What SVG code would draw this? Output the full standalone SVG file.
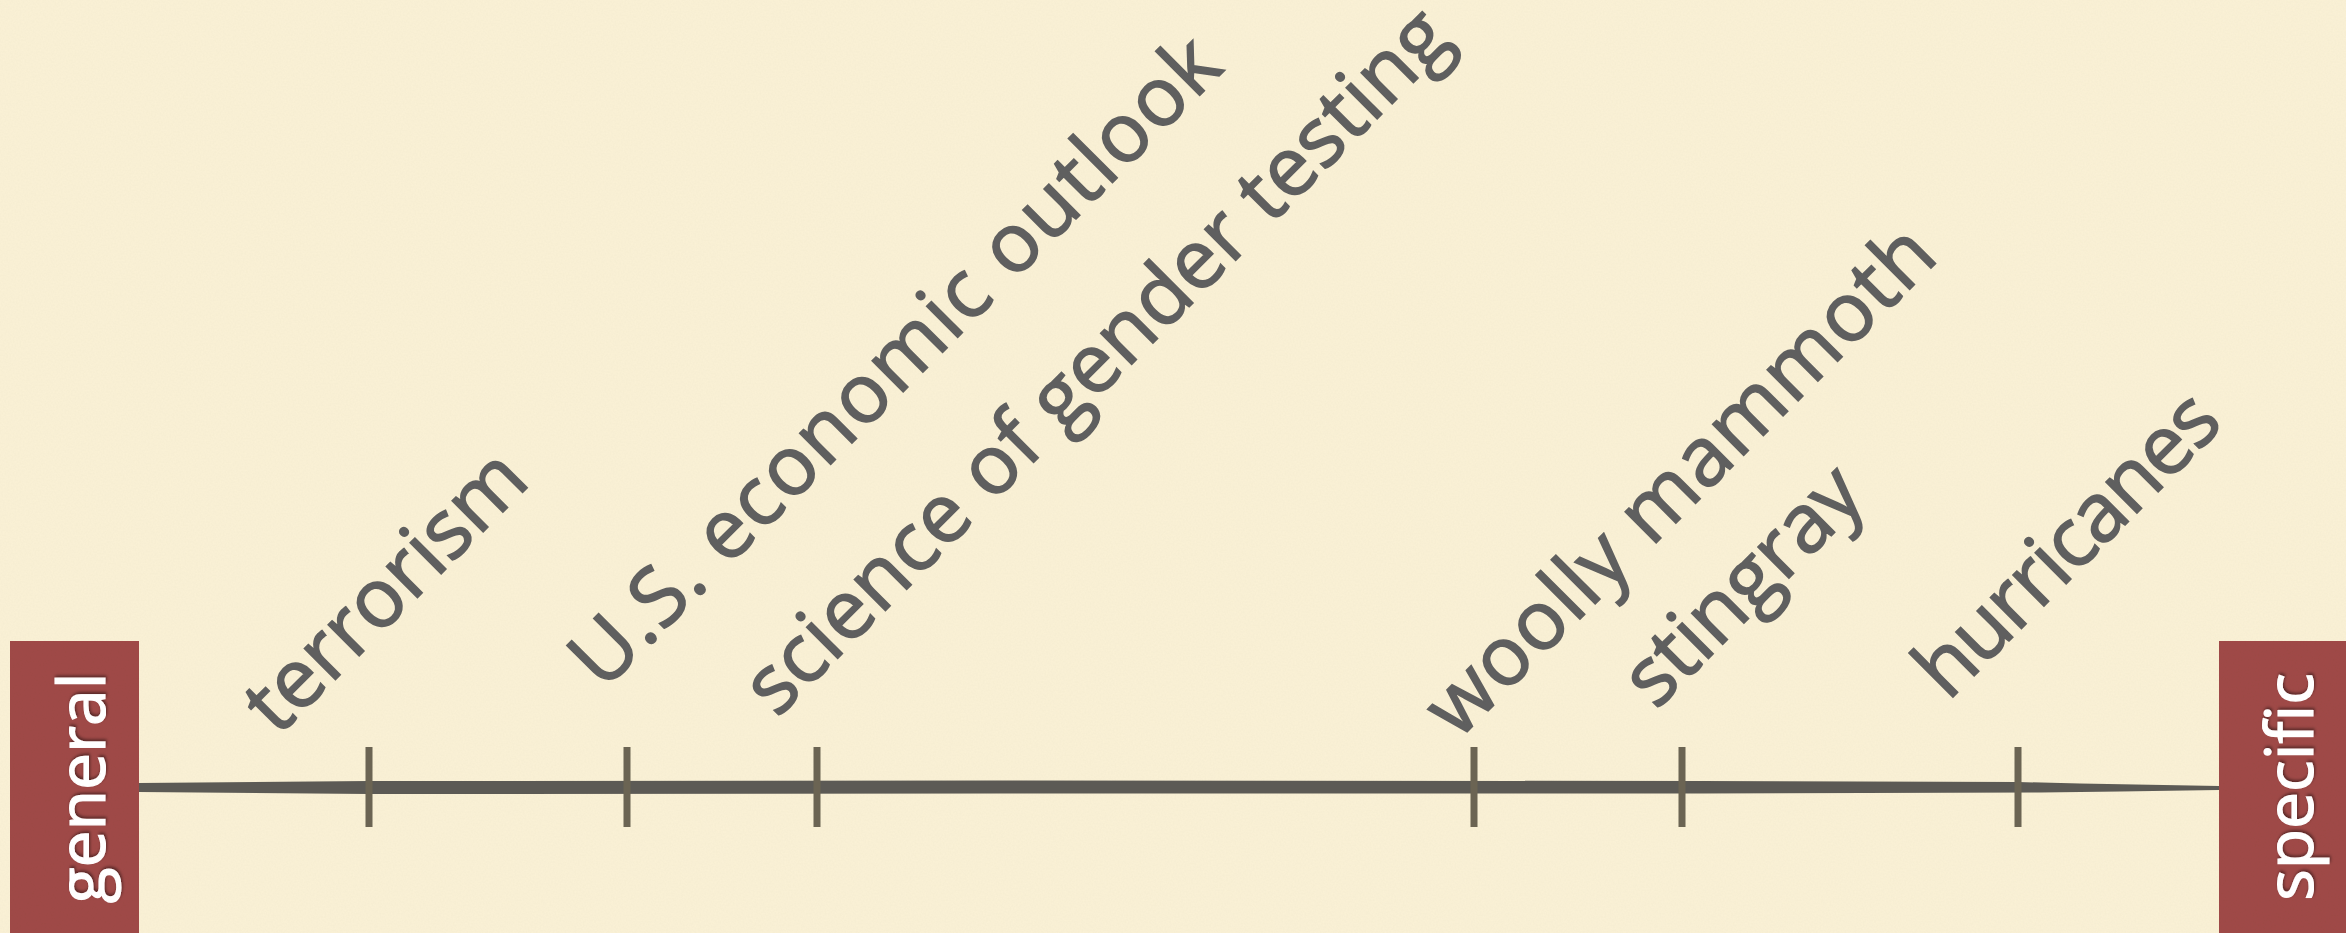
<svg xmlns="http://www.w3.org/2000/svg" width="2346" height="933" viewBox="0 0 2346 933">
  <defs>
    <style>
      .lbl { font-family: "Open Sans", "Noto Sans", "DejaVu Sans", sans-serif; font-size: 82px; fill: #5f5f5f; stroke: #5f5f5f; stroke-width: 1.6px; }
      .end { font-family: "Open Sans", "Noto Sans", "DejaVu Sans", sans-serif; font-size: 66px; fill: #ffffff; stroke: #ffffff; stroke-width: 1.2px; text-anchor: middle; }
      .box { fill: #a04a47; }
      .tick { fill: #6b6453; }
    </style>
    <filter id="paper" x="0" y="0" width="100%" height="100%">
      <feTurbulence type="fractalNoise" baseFrequency="0.6" numOctaves="2" seed="3" result="n"/>
      <feColorMatrix in="n" type="matrix" values="0 0 0 0 0  0 0 0 0 0  0 0 0 0 0  0 0 0 0.05 0" result="a"/>
      <feComposite in="a" in2="SourceGraphic" operator="atop"/>
    </filter>
    <filter id="shadow" x="-20%" y="-20%" width="140%" height="140%">
      <feDropShadow dx="2" dy="1" stdDeviation="1.5" flood-color="#000000" flood-opacity="0.45"/>
    </filter>
  </defs>

  <rect x="0" y="0" width="2346" height="933" fill="#fbf2d6" filter="url(#paper)"/>

  <g id="connectors">
    <path d="M139,783 L369,781 L1000,780.5 L1700,781 L2018,782 L2080,783.5 L2219,786 L2219,790 L2120,791.5 L2040,792.5 L1700,793.5 L1000,793.5 L369,794 L139,792 Z" fill="#5c5a55"/>
  </g>

  <g id="ticks">
    <rect class="tick" x="365.5" y="747" width="7" height="80"/>
    <rect class="tick" x="623.5" y="747" width="7" height="80"/>
    <rect class="tick" x="813.5" y="747" width="7" height="80"/>
    <rect class="tick" x="1470.5" y="747" width="7" height="80"/>
    <rect class="tick" x="1678.5" y="747" width="7" height="80"/>
    <rect class="tick" x="2014.5" y="747" width="7" height="80"/>
  </g>

  <g id="node-general">
    <rect class="box" x="10" y="641" width="129" height="292" filter="url(#paper)"/>
    <text class="end" filter="url(#shadow)" transform="translate(105,788) rotate(-90)">general</text>
  </g>

  <g id="node-specific">
    <rect class="box" x="2219" y="641" width="127" height="292" filter="url(#paper)"/>
    <text class="end" filter="url(#shadow)" transform="translate(2313,787) rotate(-90)">specific</text>
  </g>

  <g id="label-terrorism">
    <text class="lbl" transform="translate(277.5,737.5) rotate(-45)" textLength="360" lengthAdjust="spacing">terrorism</text>
  </g>
  <g id="label-us-economic-outlook">
    <text class="lbl" transform="translate(603,692) rotate(-45)" textLength="880" lengthAdjust="spacing">U.S. economic outlook</text>
  </g>
  <g id="label-science-of-gender-testing">
    <text class="lbl" transform="translate(777,719) rotate(-45)" textLength="958" lengthAdjust="spacing">science of gender testing</text>
  </g>
  <g id="label-woolly-mammoth">
    <text class="lbl" transform="translate(1458,741) rotate(-45)" textLength="682" lengthAdjust="spacing">woolly mammoth</text>
  </g>
  <g id="label-stingray">
    <text class="lbl" transform="translate(1656,711) rotate(-45)" textLength="300" lengthAdjust="spacing">stingray</text>
  </g>
  <g id="label-hurricanes">
    <text class="lbl" transform="translate(1948,702) rotate(-45)" textLength="392" lengthAdjust="spacing">hurricanes</text>
  </g>
</svg>
